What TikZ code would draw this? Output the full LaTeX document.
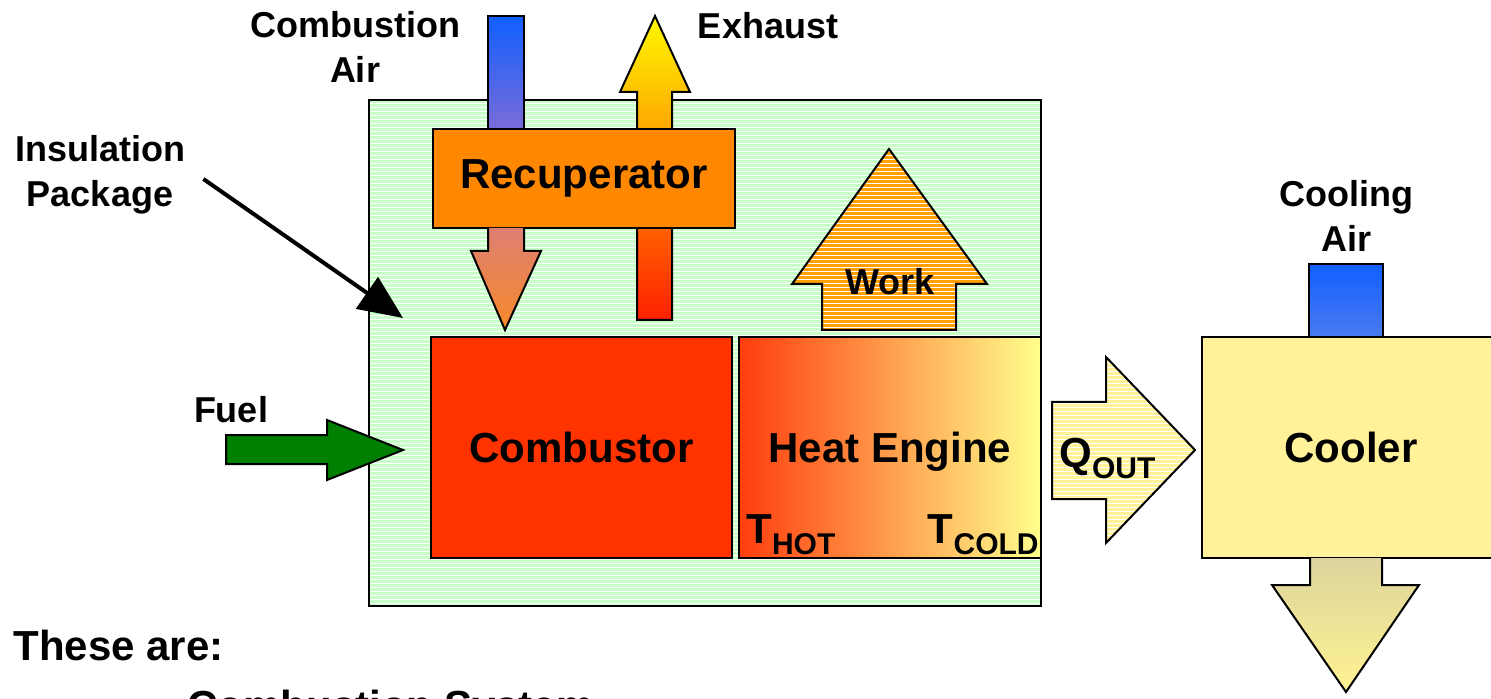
\documentclass[tikz,border=0pt]{standalone}
\usepackage{fontspec}
\setmainfont{Liberation Sans}
\usetikzlibrary{arrows.meta,patterns.meta}
\definecolor{insul}{HTML}{C8FFC8}
\definecolor{recup}{HTML}{FF8800}
\definecolor{burner}{HTML}{FF3300}
\definecolor{work}{HTML}{FFA000}
\definecolor{coolbox}{HTML}{FFF299}
\definecolor{fuel}{HTML}{008000}
\definecolor{airtop}{HTML}{1060FF}
\definecolor{airbot}{HTML}{7A6CD8}
\definecolor{feedtop}{HTML}{DE7F72}
\definecolor{feedbot}{HTML}{F68A2A}
\definecolor{coolbot}{HTML}{4A7AF0}
\newcommand{\sublbl}[2]{#1\raisebox{-5.5pt}{\fontsize{15}{15}\selectfont #2}}

\begin{document}
\begin{tikzpicture}[x=0.5pt,y=-0.5pt,>=Latex,
  every node/.style={font=\bfseries},
  lbl/.style={font=\fontsize{18}{22.5}\selectfont\bfseries,align=center,inner sep=0pt},
  biglbl/.style={font=\fontsize{21}{25}\selectfont\bfseries},
  part/.style={draw=black,line width=1pt},
  hatch/.style={preaction={fill=#1},pattern={Lines[distance=2pt,line width=0.45pt]},pattern color=white}]
\useasboundingbox (0,0) rectangle (1491,699);
% insulation package
\node[part,hatch=insul,minimum width=336pt,minimum height=253pt] (insul) at (705,353) {};
% air in, exhaust out
\node[part,top color=airtop,bottom color=airbot,minimum width=18pt,minimum height=56.5pt] (combair) at (506,72.5) {};
\draw[part,top color=yellow!95!orange,middle color=orange!80!yellow,bottom color=red!75!orange]
  (637,320) -- (637,92) -- (620,92) -- (655,16) -- (690,92) -- (672,92) -- (672,320) -- cycle;
\node[part,fill=recup,biglbl,minimum width=151pt,minimum height=49.5pt] (recup) at (584,178.5) {Recuperator};
\draw[part,top color=feedtop,bottom color=feedbot]
  (488,228) -- (488,251) -- (471,251) -- (505,330) -- (541,251) -- (524,251) -- (524,228);
% combustor and engine
\node[part,fill=burner,biglbl,minimum width=150.5pt,minimum height=110.5pt] (comb) at (581.5,447.5) {Combustor};
\node[part,left color=burner!95!white,middle color=orange!55!yellow!80!white,right color=yellow!45!white,biglbl,text depth=0pt,minimum width=151pt,minimum height=110.5pt] (engine) at (890,447.5) {Heat Engine};
\node[biglbl,inner sep=0pt,anchor=base west] (thot) at (746,543) {\sublbl{T}{HOT}};
\node[biglbl,inner sep=0pt,anchor=base east] (tcold) at (1039,543) {\sublbl{T}{COLD}};
\draw[part,hatch=work] (822,330) -- (822,284) -- (792,284) -- (889,149) -- (987,284) -- (956,284) -- (956,330) -- cycle;
\node[lbl] (work) at (890,282) {Work};
% heat rejection
\draw[part,hatch=coolbox] (1052,402) -- (1106,402) -- (1106,357) -- (1195,450) -- (1106,543) -- (1106,499) -- (1052,499) -- cycle;
\node[biglbl,inner sep=0pt,anchor=base west] (qout) at (1059,467) {\sublbl{Q}{OUT}};
\node[part,fill=coolbox,biglbl,minimum width=149pt,minimum height=110.5pt] (cooler) at (1351,447.5) {Cooler};
\node[part,top color=airtop,bottom color=coolbot,minimum width=37pt,minimum height=36.5pt] (coolair) at (1346,300.5) {};
\draw[part,top color=coolbox!70!gray!90,bottom color=coolbox!95!yellow]
  (1310,558) -- (1310,585) -- (1272,585) -- (1346,692) -- (1419,585) -- (1382,585) -- (1382,558);
% fuel and labels
\draw[part,fill=fuel] (226,435) -- (327,435) -- (327,420) -- (403,450) -- (327,480) -- (327,464) -- (226,464) -- cycle;
\node[lbl] (fuellbl) at (231,410) {Fuel};
\node[lbl] (airlbl) at (355,47) {Combustion\\Air};
\node[lbl] (exhlbl) at (768,26) {Exhaust};
\node[lbl] (insullbl) at (100,175) {Insulation\\Package};
\node[lbl] (coollbl) at (1346,216) {Cooling\\Air};
\coordinate (insulpt) at (403,318);
\draw[line width=2pt,-{Triangle[length=22pt,width=19pt]}] ([xshift=9pt,yshift=-2pt]insullbl.east) -- (insulpt);
\node[biglbl,inner sep=0pt,anchor=base west] (these) at (13,660) {These are:};
\node[biglbl,inner sep=0pt,anchor=base west] (combsys) at (187,720) {Combustion System};
\end{tikzpicture}
\end{document}
